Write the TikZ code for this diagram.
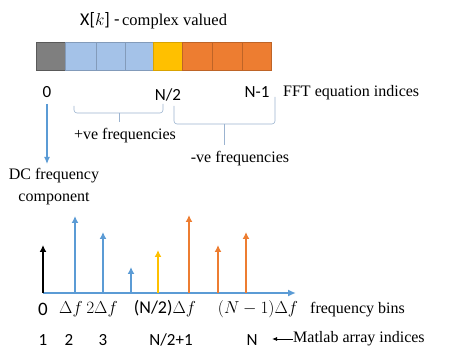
\documentclass[tikz,border=0pt]{standalone}
\usepackage{fontspec}
\setmainfont{Liberation Serif}
\newfontfamily\calib{Carlito}
\usetikzlibrary{arrows.meta}
\definecolor{obl}{HTML}{5B9BD5}
\definecolor{oor}{HTML}{ED7D31}
\definecolor{oye}{HTML}{FFC000}
\definecolor{cellblue}{HTML}{A4C2E8}
\definecolor{cellgray}{HTML}{7F7F7F}
\definecolor{bracec}{HTML}{9BB3D0}
\begin{document}
\begin{tikzpicture}[x=1pt,y=-1pt,
  serif/.style={font=\fontsize{16}{18}\selectfont,inner sep=0pt},
  sans/.style={font=\calib\fontsize{17}{19}\selectfont,inner sep=0pt},
  mathl/.style={font=\fontsize{18}{20}\selectfont,inner sep=0pt},
  stem/.style={line width=1.7pt,-{Latex[length=7pt,width=7pt]}},
  brace/.style={draw=bracec,line width=0.6pt,rounded corners=3pt}]
\useasboundingbox (0,0) rectangle (459,361);
% title
\node[anchor=west,inner sep=0pt] (title) at (80,21) {{\calib\fontsize{18}{20}\selectfont X[}{\fontsize{18}{20}\selectfont$k$}{\calib\fontsize{18}{20}\selectfont]}\ \,{\calib\fontsize{18}{20}\selectfont -}\ {\fontsize{16.5}{18}\selectfont complex valued}};
% bar cells
\fill[cellgray,draw=cellgray!70!black] (36,42) rectangle (65,70);
\foreach \a/\b in {65/96,96/125,125/153}{
  \fill[cellblue,draw=cellblue!80!black,line width=0.5pt] (\a,42) rectangle (\b,70);}
\fill[oye,draw=oye!85!black,line width=0.5pt] (153,42) rectangle (182,70);
\foreach \a/\b in {182/212,212/242,242/271}{
  \fill[oor,draw=oor!80!black,line width=0.5pt] (\a,42) rectangle (\b,70);}
% indices
\node[sans] (i0) at (47,92) {0};
\node[sans] (iN2) at (168,95) {N/2};
\node[sans] (iN1) at (257,92) {N-1};
\node[serif,anchor=west] (fftidx) at (283,93) {FFT equation indices};
% braces
\draw[brace] (74,106) -- (74,113) -- (163,113) -- (163,104);
\draw[brace] (119,113) -- (119,122);
\draw[brace] (174,106) -- (174,124) -- (275,124) -- (275,97);
\draw[brace] (224,124) -- (224,145);
\node[serif] (pos) at (125,136) {+ve frequencies};
\node[serif] (neg) at (240,159) {-ve frequencies};
% DC arrow
\node[serif,align=center] (dc) at (54,187) {DC frequency\\[4pt]component};
\coordinate (dcs) at (47,104);
\draw[obl,line width=1.2pt,-{Latex[length=7pt,width=6pt]}] (dcs) -- (47,164);
% spectrum axis
\coordinate (o) at (43,293);
\coordinate (xe) at (296,293);
\draw[obl,line width=1.7pt,-{Latex[length=8pt,width=7pt]}] (o) -- (xe);
\draw[stem,black] (43,293) -- (43,245);
\draw[stem,obl] (75,293) -- (75,216);
\draw[stem,obl] (103,293) -- (103,232);
\draw[stem,obl] (131,293) -- (131,267);
\draw[stem,oye] (158,293) -- (158,250);
\draw[stem,oor] (189,293) -- (189,215);
\draw[stem,oor] (218,293) -- (218,245);
\draw[stem,oor] (246,293) -- (246,232);
% frequency labels
\node[sans,font=\calib\fontsize{19}{21}\selectfont] (f0) at (43,309) {0};
\node[mathl] (f1) at (71,309) {$\Delta f$};
\node[mathl] (f2) at (102,309) {$2\Delta f$};
\node[mathl] (fN2) at (165,309) {{\calib\fontsize{18}{20}\selectfont (N/2)}$\Delta f$};
\node[mathl] (fN1) at (258,309) {$(N-1)\Delta f$};
\node[serif,anchor=west] (fb) at (310,310) {frequency bins};
% matlab indices
\node[sans] (m1) at (43,340) {1};
\node[sans] (m2) at (69,340) {2};
\node[sans] (m3) at (103,340) {3};
\node[sans] (mN2) at (171,340) {N/2+1};
\node[sans] (mN) at (252,340) {N};
\node[serif,anchor=west] (ml) at (293,339) {Matlab array indices};
\draw[line width=0.8pt,-{Latex[length=5pt,width=4pt]}] (ml.west) -- (272,339);
\end{tikzpicture}
\end{document}
